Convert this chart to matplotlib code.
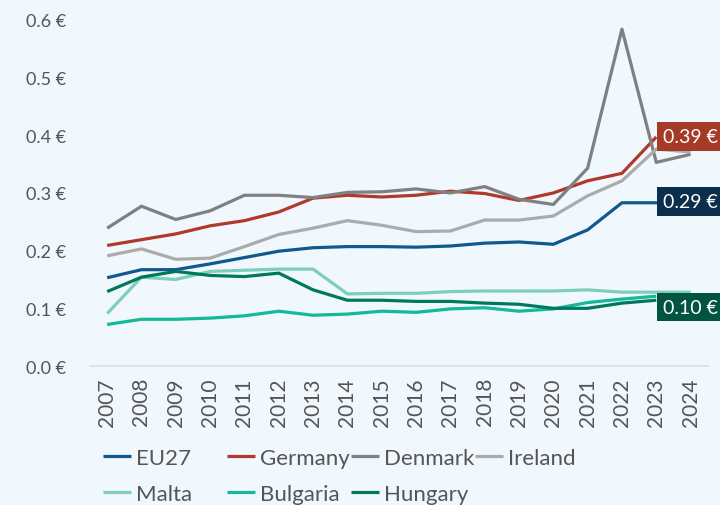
import matplotlib
matplotlib.use("Agg")
import matplotlib.pyplot as plt

plt.rcParams['font.family'] = ['Lato', 'DejaVu Sans']

years = list(range(2007, 2025))
eu27     = [0.153, 0.167, 0.167, 0.177, 0.188, 0.199, 0.205, 0.207, 0.207, 0.206, 0.208, 0.213, 0.215, 0.211, 0.236, 0.283, 0.283, 0.283]
germany  = [0.209, 0.219, 0.229, 0.243, 0.252, 0.267, 0.291, 0.296, 0.293, 0.296, 0.303, 0.299, 0.287, 0.300, 0.321, 0.334, 0.397]
denmark  = [0.239, 0.277, 0.254, 0.269, 0.296, 0.296, 0.292, 0.301, 0.302, 0.307, 0.300, 0.311, 0.289, 0.280, 0.343, 0.584, 0.353, 0.367]
ireland  = [0.191, 0.203, 0.185, 0.187, 0.207, 0.228, 0.239, 0.252, 0.244, 0.233, 0.234, 0.253, 0.253, 0.260, 0.295, 0.321, 0.376, 0.371]
malta    = [0.091, 0.154, 0.150, 0.164, 0.166, 0.168, 0.168, 0.125, 0.126, 0.126, 0.129, 0.130, 0.130, 0.130, 0.132, 0.128, 0.128, 0.128]
bulgaria = [0.072, 0.081, 0.081, 0.083, 0.087, 0.095, 0.088, 0.090, 0.095, 0.093, 0.099, 0.101, 0.095, 0.099, 0.110, 0.116, 0.121]
hungary  = [0.129, 0.154, 0.164, 0.157, 0.155, 0.161, 0.132, 0.114, 0.114, 0.112, 0.112, 0.109, 0.107, 0.100, 0.100, 0.109, 0.114]

series = [
    ("EU27", eu27, "#0E5A8E"),
    ("Germany", germany, "#B0392B"),
    ("Denmark", denmark, "#808080"),
    ("Ireland", ireland, "#ABABAB"),
    ("Malta", malta, "#7DCEBB"),
    ("Bulgaria", bulgaria, "#15B897"),
    ("Hungary", hungary, "#00785E"),
]
end_labels = [("0.39 €", germany, "#A63A28"), ("0.29 €", eu27, "#0A2E4C"), ("0.10 €", hungary, "#005440")]
label_y = [0.398, 0.285, 0.102]
yticks = [0.0, 0.1, 0.2, 0.3, 0.4, 0.5, 0.6]
ytick_labels = ["0.0 €", "0.1 €", "0.2 €", "0.3 €", "0.4 €", "0.5 €", "0.6 €"]

bg = "#F0F7FD"
fig = plt.figure(figsize=(7.2, 5.06), dpi=100, facecolor=bg)
ax = fig.add_axes([0.125, 0.2747, 0.858, 0.684], facecolor=bg)

handles = {}
for name, vals, col in series:
    ln, = ax.plot(years[:len(vals)], vals, color=col, lw=2.3, solid_capstyle='butt', zorder=2)
    handles[name] = ln

for (txt, vals, col), yv in zip(end_labels, label_y):
    ax.annotate(txt, xy=(2023.2, yv), xycoords='data', ha='left', va='center',
                fontsize=14, color='white', annotation_clip=False, zorder=5,
                bbox=dict(boxstyle='square,pad=0.3', fc=col, ec='none'))

ax.set_xlim(2006.5, 2024.5)
ax.set_ylim(0, 0.6)
ax.set_yticks(yticks)
ax.set_yticklabels(ytick_labels)
ax.set_xticks(years)
ax.set_xticklabels([str(y) for y in years], rotation=90)
ax.tick_params(axis='both', length=0, colors='#555555')
ax.tick_params(axis='y', pad=17, labelsize=13)
ax.tick_params(axis='x', pad=8, labelsize=15)
for s in ['top', 'right', 'left']:
    ax.spines[s].set_visible(False)
ax.spines['bottom'].set_color('#DDDDDD')
ax.spines['bottom'].set_linewidth(1.2)

cols = [["EU27", "Malta"], ["Germany", "Bulgaria"], ["Denmark", "Hungary"], ["Ireland"]]
xs = [103, 227, 351, 475]
for names, x in zip(cols, xs):
    fig.legend([handles[n] for n in names], names, loc='upper left',
               bbox_to_anchor=(x / 720, 1 - 449 / 506), frameon=False,
               fontsize=16, handlelength=1.25, handletextpad=0.25,
               labelspacing=0.72, borderaxespad=0, borderpad=0, labelcolor='#555555')

fig.savefig("out.png", dpi=100, facecolor=bg)
